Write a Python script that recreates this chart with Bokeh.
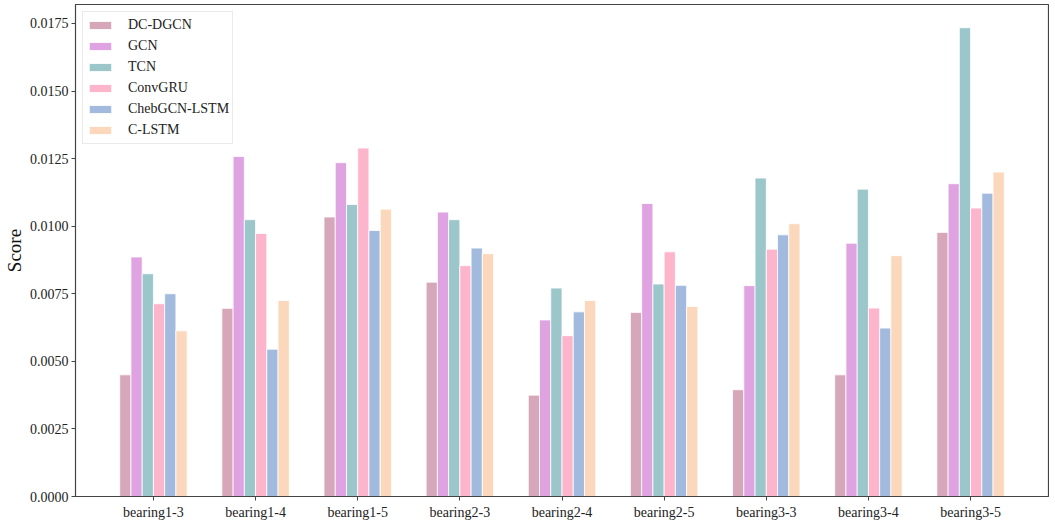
from bokeh.plotting import figure
from bokeh.models import FactorRange, Range1d, FixedTicker, NumeralTickFormatter, ColumnDataSource, Legend
from bokeh.transform import dodge
from bokeh.embed import file_html
from bokeh.resources import INLINE

categories = ["bearing1-3", "bearing1-4", "bearing1-5", "bearing2-3", "bearing2-4",
              "bearing2-5", "bearing3-3", "bearing3-4", "bearing3-5"]

models = ["DC-DGCN", "GCN", "TCN", "ConvGRU", "ChebGCN-LSTM", "C-LSTM"]

dc_dgcn = [0.00450, 0.00696, 0.01034, 0.00793, 0.00375, 0.00681, 0.00395, 0.00450, 0.00977]
gcn = [0.00886, 0.01258, 0.01235, 0.01052, 0.00653, 0.01084, 0.00780, 0.00937, 0.01157]
tcn = [0.00824, 0.01024, 0.01080, 0.01024, 0.00771, 0.00786, 0.01178, 0.01137, 0.01734]
convgru = [0.00713, 0.00973, 0.01289, 0.00854, 0.00595, 0.00905, 0.00915, 0.00697, 0.01067]
chebgcn_lstm = [0.00750, 0.00545, 0.00984, 0.00919, 0.00683, 0.00781, 0.00968, 0.00623, 0.01122]
c_lstm = [0.00613, 0.00725, 0.01063, 0.00898, 0.00725, 0.00703, 0.01009, 0.00891, 0.01200]

y_ticks = [0.0, 0.0025, 0.005, 0.0075, 0.01, 0.0125, 0.015, 0.0175]

colors = ["#d5a7b8", "#dea3e0", "#9bc6ca", "#fdb5cc", "#a2badd", "#fbd7bb"]
series = [dc_dgcn, gcn, tcn, convgru, chebgcn_lstm, c_lstm]

FONT = "Liberation Serif"

source = ColumnDataSource(data=dict(
    cat=categories,
    **{f"s{i}": s for i, s in enumerate(series)}
))

x_range = FactorRange(factors=categories, range_padding=0.263, range_padding_units="absolute")
p = figure(width=1049, height=522, x_range=x_range, y_range=Range1d(0, 0.0182),
           output_backend="svg", toolbar_location=None,
           min_border_left=72, min_border_right=1, min_border_top=4, min_border_bottom=10)

bw = 0.11
items = []
for i, (name, col) in enumerate(zip(models, colors)):
    off = (i - 2.5) * bw
    r = p.vbar(x=dodge("cat", off, range=p.x_range), top=f"s{i}", width=bw,
               source=source, fill_color=col, line_color="white", line_width=0.8)
    items.append((name, [r]))

legend = Legend(items=items, location="top_left")
legend.label_text_font = FONT
legend.label_text_font_size = "14px"
legend.label_text_color = "#222222"
legend.glyph_width = 28
legend.glyph_height = 10
legend.label_height = 20
legend.label_standoff = 14
legend.spacing = 1
legend.padding = 3
legend.margin = 7
legend.border_line_color = "#d6d6d6"
legend.border_line_width = 1
legend.background_fill_alpha = 0.9
p.add_layout(legend)

p.xgrid.visible = False
p.ygrid.visible = False
p.outline_line_color = "#444444"
p.outline_line_width = 1.2

p.yaxis.ticker = FixedTicker(ticks=y_ticks)
p.yaxis.formatter = NumeralTickFormatter(format="0.0000")
p.yaxis.minor_tick_line_color = None
p.yaxis.axis_label = "Score"
p.yaxis.axis_label_text_font = FONT
p.yaxis.axis_label_text_font_size = "19px"
p.yaxis.axis_label_text_font_style = "normal"
p.yaxis.axis_label_text_color = "#111111"
p.yaxis.axis_label_standoff = 2
p.yaxis.major_label_standoff = 3

for ax in (p.xaxis, p.yaxis):
    ax.major_label_text_font = FONT
    ax.major_label_text_font_size = "14px"
    ax.major_label_text_color = "#222222"
    ax.axis_line_color = "#444444"
    ax.major_tick_line_color = "#444444"
    ax.major_tick_out = 4
    ax.major_tick_in = 0
    ax.minor_tick_line_color = None

p.xaxis.major_label_standoff = 4

open("out.html", "w").write(file_html(p, INLINE))
